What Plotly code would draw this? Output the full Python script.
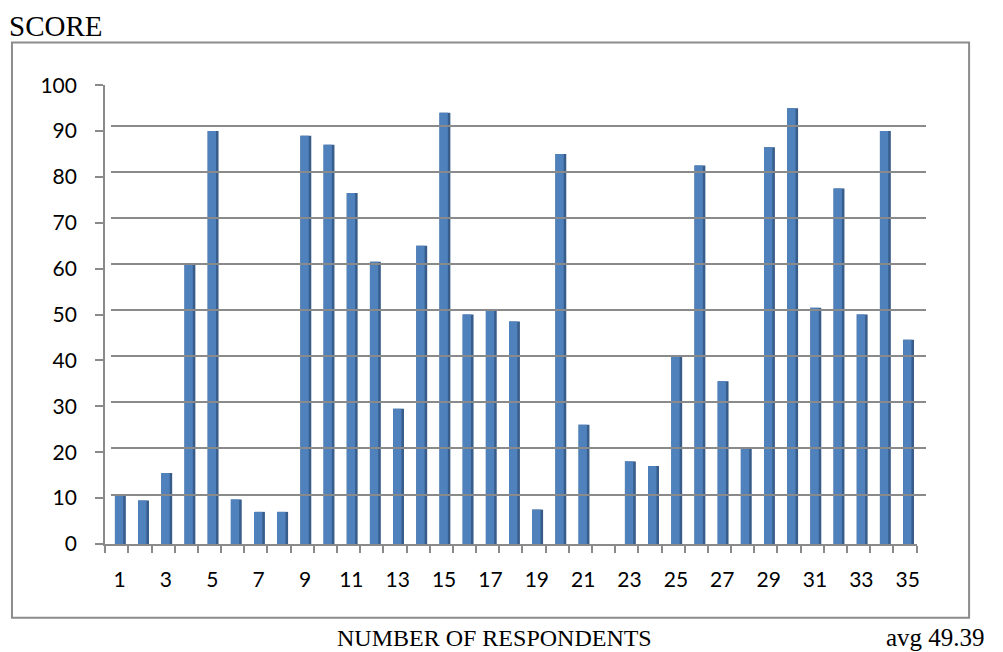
import plotly.graph_objects as go

# ---- data ----
respondents = list(range(1, 36))
scores = [10.5, 9.5, 15.5, 61, 90, 9.7, 7, 7, 89, 87,
          76.5, 61.5, 29.5, 65, 94, 50, 51, 48.5, 7.5, 85,
          26, 0, 18, 17, 41, 82.5, 35.5, 21, 86.5, 95,
          51.5, 77.5, 50, 90, 44.5]
x_tick_labels = [str(v) for v in respondents[::2]]
y_tick_values = list(range(0, 101, 10))
y_title = "SCORE"
x_title = "NUMBER OF RESPONDENTS"
avg_text = "avg 49.39"

W, H = 1003, 664
TOP, SCALE = 13.5, 0.962  # observed vertical mapping of the renderer

def px(x):
    return x / W
def py(y):
    return (H - (y - TOP) / SCALE) / H

FRONT = "#4F81BD"
SIDE = "#385D8A"
GRID = "#8A8A8A"
label_font = dict(family="Lato, 'Open Sans', sans-serif", size=21, color="#000000")
serif = "'Liberation Serif', 'Times New Roman', serif"

fig = go.Figure()

# side (darker) face
fig.add_trace(go.Bar(x=respondents, y=scores, width=0.47, offset=-0.08,
                     marker=dict(color=SIDE, line=dict(width=0)),
                     hoverinfo="skip", showlegend=False))
# front face
fig.add_trace(go.Bar(x=respondents, y=scores, width=0.36, offset=-0.08,
                     marker=dict(color=FRONT, line=dict(width=0)),
                     showlegend=False))
# helper trace for back wall axes
fig.add_trace(go.Scatter(x=[respondents[0]], y=[0], xaxis="x2", yaxis="y2",
                         mode="markers", marker=dict(opacity=0),
                         hoverinfo="skip", showlegend=False))

fig.update_layout(
    width=W, height=H, autosize=False,
    margin=dict(l=0, r=0, t=0, b=0),
    paper_bgcolor="white", plot_bgcolor="rgba(0,0,0,0)",
    barmode="overlay",
    xaxis=dict(domain=[px(105.5), px(919.3)], range=[0.5, 35.5],
               tickvals=[v + 0.12 for v in respondents[::2]], ticktext=x_tick_labels,
               ticks="outside", ticklen=6, tickcolor="rgba(0,0,0,0)",
               ticklabelstandoff=10,
               minor=dict(tick0=0.5, dtick=1, ticks="outside", ticklen=7,
                          tickwidth=2, tickcolor=GRID, showgrid=False),
               showgrid=False, zeroline=False,
               showline=True, linecolor=GRID, linewidth=2,
               tickfont=label_font),
    yaxis=dict(domain=[py(543.3), py(84.7)], range=[0, 100],
               tickvals=y_tick_values, ticks="outside", ticklen=8,
               tickwidth=2, tickcolor=GRID, ticklabelstandoff=14,
               showgrid=False, zeroline=False,
               showline=True, linecolor=GRID, linewidth=2,
               tickfont=label_font),
    xaxis2=dict(domain=[px(111), px(929)], range=[0.5, 35.5], anchor="y2",
                showgrid=False, zeroline=False, showticklabels=False,
                ticks="", showline=False),
    yaxis2=dict(domain=[py(540), py(79)], range=[0, 100], anchor="x2",
                tickvals=y_tick_values, showgrid=True, gridcolor=GRID,
                gridwidth=2, zeroline=False, showticklabels=False,
                ticks="", showline=False),
    shapes=[dict(type="rect", xref="paper", yref="paper",
                 x0=px(12), x1=px(972), y0=py(617), y1=py(42),
                 line=dict(color="#8C8C8C", width=2), layer="below")],
    annotations=[
        dict(text=y_title, xref="paper", yref="paper", x=px(7), y=py(25),
             xanchor="left", yanchor="middle", showarrow=False,
             font=dict(family=serif, size=29, color="#000000")),
        dict(text=x_title, xref="paper", yref="paper", x=px(496), y=py(637),
             xanchor="center", yanchor="middle", showarrow=False,
             font=dict(family=serif, size=24, color="#000000")),
        dict(text=avg_text, xref="paper", yref="paper", x=px(938), y=py(637),
             xanchor="center", yanchor="middle", showarrow=False,
             font=dict(family=serif, size=25, color="#000000")),
    ],
)

# put the back-wall grid behind the bars
fig.data = (fig.data[2],) + fig.data[:2]

fig.write_html(
    "out.html",
    config={"responsive": False, "displayModeBar": False},
    post_script="document.body.style.margin='0';document.body.style.overflow='hidden';",
)
